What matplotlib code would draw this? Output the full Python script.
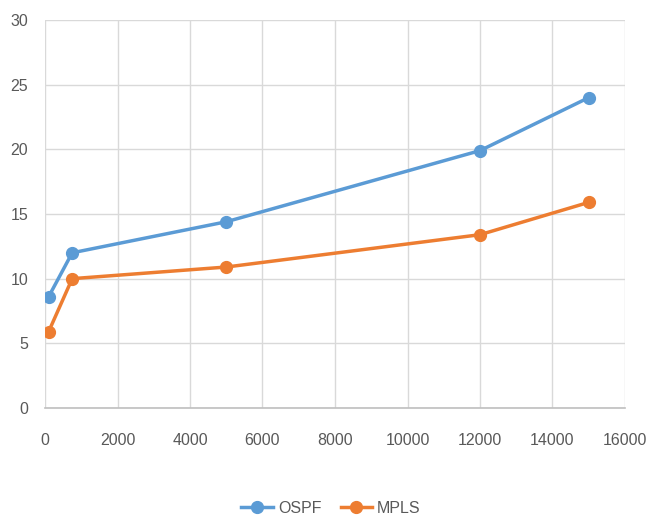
import matplotlib.pyplot as plt

# Data
x_vals = [100, 750, 5000, 12000, 15000]
ospf = [8.6, 12.0, 14.4, 19.9, 24.0]
mpls = [5.9, 10.0, 10.9, 13.4, 15.9]

plt.rcParams['font.family'] = ['Liberation Sans', 'DejaVu Sans']

fig = plt.figure(figsize=(6.49, 5.20), dpi=100)
ax = fig.add_axes([45/649, 112/520, 580/649, 388/520])

ax.plot(x_vals, ospf, color='#5B9BD5', linewidth=2.5, marker='o', markersize=8.5, label='OSPF')
ax.plot(x_vals, mpls, color='#ED7D31', linewidth=2.5, marker='o', markersize=8.5, label='MPLS')

ax.set_xlim(0, 16000)
ax.set_ylim(0, 30)
ax.set_xticks(range(0, 16001, 2000))
ax.set_yticks(range(0, 31, 5))
ax.grid(True, color='#D9D9D9', linewidth=1)
ax.set_axisbelow(True)

for side in ['top', 'right', 'left']:
    ax.spines[side].set_visible(False)
ax.spines['bottom'].set_color('#BFBFBF')
ax.spines['bottom'].set_linewidth(1.2)

ax.tick_params(axis='x', length=0, pad=18, labelsize=11.5, labelcolor='#595959')
ax.tick_params(axis='y', length=0, pad=12, labelsize=11.5, labelcolor='#595959')

fig.legend(loc='lower center', bbox_to_anchor=(0.51, -0.02), ncol=2, frameon=False,
           fontsize=11.5, labelcolor='#595959', handlelength=2.0, columnspacing=1.2,
           handletextpad=0.3)

plt.savefig('out.png', dpi=100)
plt.close()
